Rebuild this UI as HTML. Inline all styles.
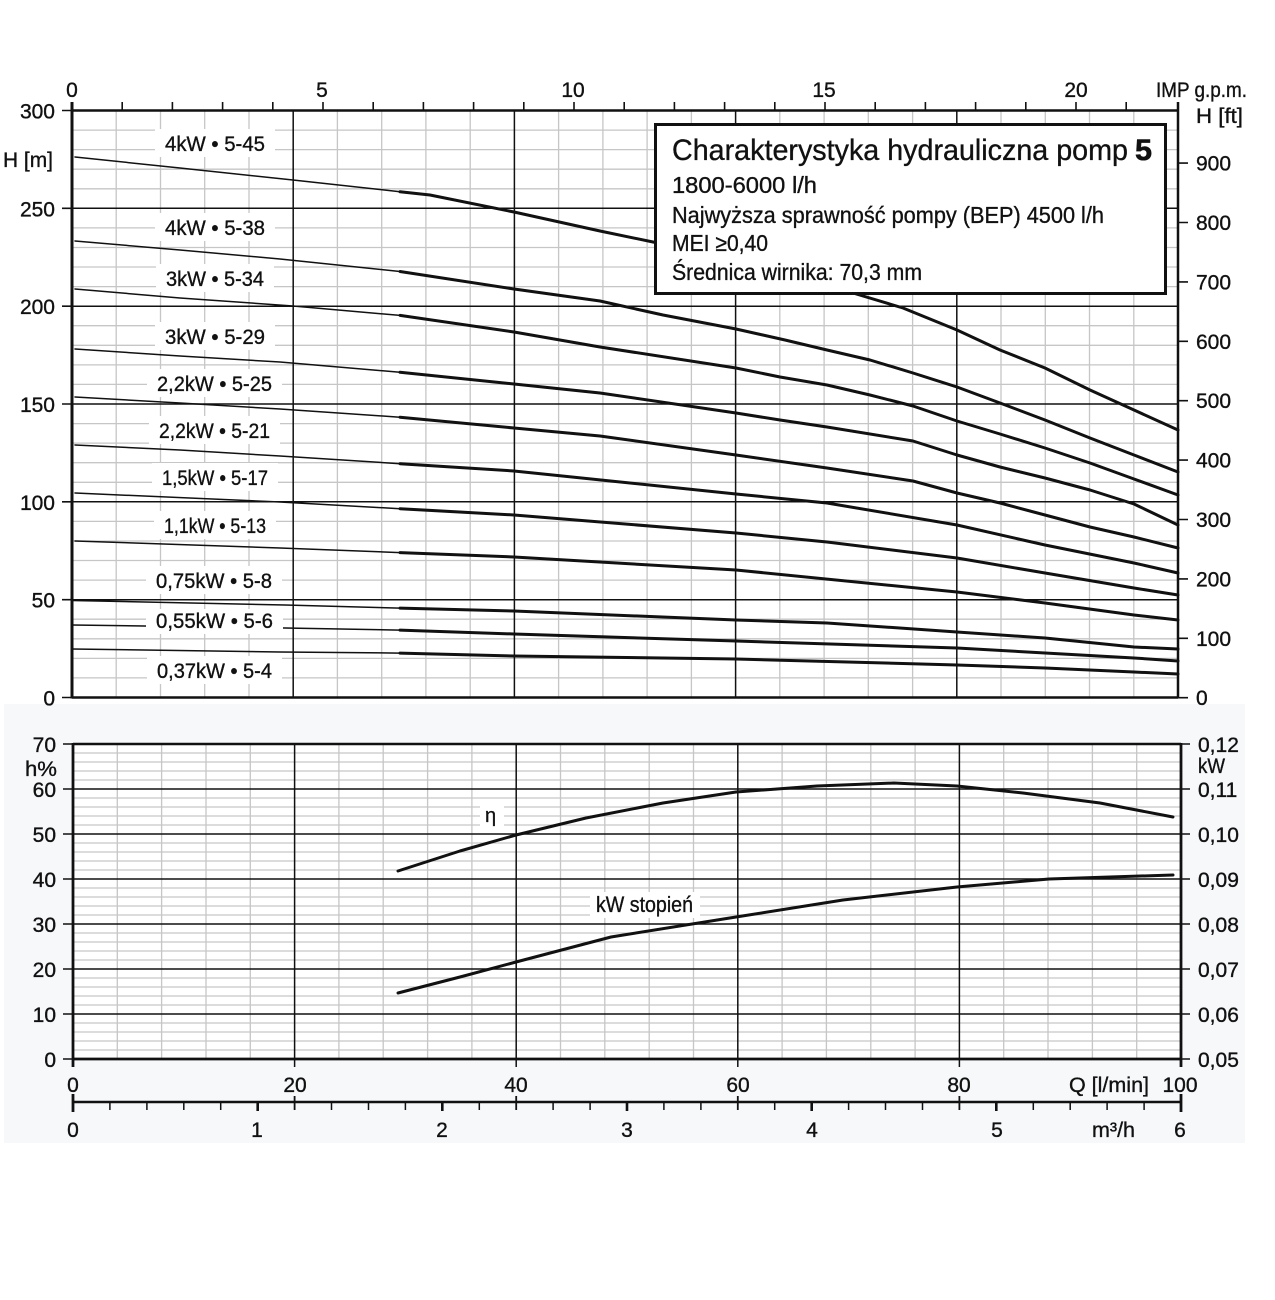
<!DOCTYPE html>
<html><head><meta charset="utf-8"><style>html,body{margin:0;padding:0;background:#fff}svg{display:block}</style></head>
<body>
<svg width="1275" height="1300" viewBox="0 0 1275 1300" xmlns="http://www.w3.org/2000/svg" font-family="'Liberation Sans', 'Noto Sans CJK SC', sans-serif" fill="#111">
<rect x="0" y="0" width="1275" height="1300" fill="#fff"/>
<rect x="4" y="704" width="1241" height="439" fill="#f7f8fa"/>
<rect x="73" y="744" width="1108" height="315" fill="#fff"/>

<!-- ===== TOP PLOT GRID ===== -->
<g stroke="#c6c6c6" stroke-width="1.3" fill="none">
<path d="M116.2 110.5V697.5M160.5 110.5V697.5M204.7 110.5V697.5M249 110.5V697.5M337.4 110.5V697.5M381.7 110.5V697.5M425.9 110.5V697.5M470.2 110.5V697.5M558.6 110.5V697.5M602.9 110.5V697.5M647.1 110.5V697.5M691.4 110.5V697.5M779.8 110.5V697.5M824.1 110.5V697.5M868.3 110.5V697.5M912.6 110.5V697.5M1001 110.5V697.5M1045.3 110.5V697.5M1089.5 110.5V697.5M1133.8 110.5V697.5"/>
<path d="M72 677.9H1178M72 658.4H1178M72 638.8H1178M72 619.2H1178M72 580.1H1178M72 560.5H1178M72 541H1178M72 521.4H1178M72 482.3H1178M72 462.7H1178M72 443.1H1178M72 423.6H1178M72 384.4H1178M72 364.9H1178M72 345.3H1178M72 325.7H1178M72 286.6H1178M72 267H1178M72 247.5H1178M72 227.9H1178M72 188.8H1178M72 169.2H1178M72 149.6H1178M72 130.1H1178"/>
</g>
<g stroke="#111" stroke-width="1.5" fill="none">
<path d="M293.2 110.5V697.5M514.4 110.5V697.5M735.6 110.5V697.5M956.8 110.5V697.5"/>
<path d="M72 599.7H1178M72 501.8H1178M72 404H1178M72 306.2H1178M72 208.3H1178"/>
</g>

<!-- top plot frame & ticks -->
<g stroke="#111" fill="none">
<path d="M72 110.5H1178" stroke-width="2.5"/>
<path d="M72 697.5H1178" stroke-width="2.5"/>
<path d="M72 102V698.5" stroke-width="3"/>
<path d="M1178 102V698.5" stroke-width="2.5"/>
<path stroke-width="1.6" d="M122.2 102V110M172.4 102V110M222.6 102V110M272.8 102V110M323 102V110M373.2 102V110M423.4 102V110M473.6 102V110M523.8 102V110M574 102V110M624.2 102V110M674.4 102V110M724.6 102V110M774.8 102V110M825 102V110M875.2 102V110M925.4 102V110M975.6 102V110M1025.8 102V110M1076 102V110M1126.2 102V110"/>
<path stroke-width="1.6" d="M62 110.5H72M62 208.3H72M62 306.2H72M62 404H72M62 501.8H72M62 599.7H72M62 697.5H72"/>
<path stroke-width="1.6" d="M1178 163.1H1188M1178 222.5H1188M1178 281.9H1188M1178 341.3H1188M1178 400.7H1188M1178 460.1H1188M1178 519.5H1188M1178 578.9H1188M1178 638.3H1188M1178 697.7H1188"/>
</g>

<!-- ===== TOP CURVES ===== -->
<g stroke="#111" fill="none" stroke-linejoin="round" stroke-linecap="round">
<g stroke-width="1.5">
<polyline points="75,157 180,168 293,180 400,191.7"/>
<polyline points="75,241 180,250 280,259 400,271.5"/>
<polyline points="75,289 180,298 293,306 400,315.4"/>
<polyline points="75,349 180,356 280,362 400,372.3"/>
<polyline points="75,397 180,403 280,409 400,417.2"/>
<polyline points="75,445 180,450 280,456 400,463.7"/>
<polyline points="75,493 280,502 400,508.7"/>
<polyline points="75,541 280,548 400,552.6"/>
<polyline points="72,600.5 285,605 400,608.1"/>
<polyline points="72,625 285,628 400,630.1"/>
<polyline points="72,649 280,652 400,653.1"/>
</g>
<g stroke-width="3">
<polyline points="400,191.7 430,195 514,212 600,231 653,242 720,255 800,275 853,293 903,308 957,330 1000,350 1045,368 1090,390 1134,410 1178,430"/>
<polyline points="400,271.5 514,289 600,301 663,315 736,329 785,340 827,350 870,360 913,373 957,387 1000,403 1045,420 1090,438 1134,455 1178,472"/>
<polyline points="400,315.4 514,332 600,347 736,368 780,377 827,385 870,395 913,406 957,421 1000,434 1045,448 1090,463 1134,479 1178,495"/>
<polyline points="400,372.3 514,384 600,393 736,413 780,420 827,427 913,441 957,455 1000,467 1045,478 1090,490 1134,504 1178,525"/>
<polyline points="400,417.2 514,428 600,436 736,455 827,468 913,481 957,493 1000,503 1045,515 1090,527 1134,537 1178,548"/>
<polyline points="400,463.7 514,471 736,494 827,503 957,525 1045,545 1134,563 1178,573"/>
<polyline points="400,508.7 514,515 736,533 827,542 957,558 1045,573 1134,588 1178,595"/>
<polyline points="400,552.6 514,557 736,570 957,592 1045,603 1134,615 1178,620"/>
<polyline points="400,608.1 514,611 736,620 827,623 957,632 1045,638 1134,647 1178,649"/>
<polyline points="400,630.1 514,634 736,641 957,648 1045,653 1134,658 1178,661"/>
<polyline points="400,653.1 514,656 736,659 957,665 1045,668 1134,672 1178,674"/>
</g>
</g>

<!-- curve labels -->
<g fill="#fff">
<rect x="155" y="129" width="120" height="28"/>
<rect x="155" y="213" width="120" height="28"/>
<rect x="156" y="264" width="118" height="28"/>
<rect x="155" y="322" width="120" height="28"/>
<rect x="147" y="369" width="135" height="28"/>
<rect x="149" y="416" width="131" height="28"/>
<rect x="152" y="463" width="126" height="28"/>
<rect x="154" y="511" width="122" height="28"/>
<rect x="146" y="566" width="136" height="28"/>
<rect x="146" y="609" width="137" height="25"/>
<rect x="147" y="656" width="135" height="28"/>
</g>
<g font-size="21" stroke="#111" stroke-width="0.35">
<text x="165" y="151" textLength="100" lengthAdjust="spacingAndGlyphs">4kW • 5-45</text>
<text x="165" y="235" textLength="100" lengthAdjust="spacingAndGlyphs">4kW • 5-38</text>
<text x="166" y="286" textLength="98" lengthAdjust="spacingAndGlyphs">3kW • 5-34</text>
<text x="165" y="344" textLength="100" lengthAdjust="spacingAndGlyphs">3kW • 5-29</text>
<text x="157" y="391" textLength="115" lengthAdjust="spacingAndGlyphs">2,2kW • 5-25</text>
<text x="159" y="438" textLength="111" lengthAdjust="spacingAndGlyphs">2,2kW • 5-21</text>
<text x="162" y="485" textLength="106" lengthAdjust="spacingAndGlyphs">1,5kW • 5-17</text>
<text x="164" y="533" textLength="102" lengthAdjust="spacingAndGlyphs">1,1kW • 5-13</text>
<text x="156" y="588" textLength="116" lengthAdjust="spacingAndGlyphs">0,75kW • 5-8</text>
<text x="156" y="628" textLength="117" lengthAdjust="spacingAndGlyphs">0,55kW • 5-6</text>
<text x="157" y="678" textLength="115" lengthAdjust="spacingAndGlyphs">0,37kW • 5-4</text>
</g>

<!-- info box -->
<rect x="655.5" y="124.5" width="510" height="169" fill="#fff" stroke="#111" stroke-width="3"/>
<g stroke="#111" stroke-width="0.35">
<text x="672" y="160" font-size="30" textLength="456" lengthAdjust="spacingAndGlyphs">Charakterystyka hydrauliczna pomp</text>
<text x="1135" y="160" font-size="30" font-weight="bold" stroke-width="0.6" textLength="17" lengthAdjust="spacingAndGlyphs">5</text>
<g font-size="23">
<text x="672" y="193" textLength="145" lengthAdjust="spacingAndGlyphs">1800-6000 l/h</text>
<text x="672" y="223" textLength="432" lengthAdjust="spacingAndGlyphs">Najwyższa sprawność pompy (BEP) 4500 l/h</text>
<text x="672" y="251" textLength="96" lengthAdjust="spacingAndGlyphs">MEI ≥0,40</text>
<text x="672" y="280" textLength="250" lengthAdjust="spacingAndGlyphs">Średnica wirnika: 70,3 mm</text>
</g>
</g>

<!-- top plot axis labels -->
<g font-size="21" stroke="#111" stroke-width="0.35">
<g text-anchor="middle">
<text x="72" y="97">0</text>
<text x="322" y="97">5</text>
<text x="573" y="97">10</text>
<text x="824" y="97">15</text>
<text x="1076" y="97">20</text>
</g>
<text x="1156" y="97" textLength="91" lengthAdjust="spacingAndGlyphs">IMP g.p.m.</text>
<text x="1196" y="123" textLength="47" lengthAdjust="spacingAndGlyphs">H [ft]</text>
<text x="3" y="167" textLength="50" lengthAdjust="spacingAndGlyphs">H [m]</text>
<g text-anchor="end">
<text x="55" y="118.5">300</text>
<text x="55" y="216.3">250</text>
<text x="55" y="314.2">200</text>
<text x="55" y="412">150</text>
<text x="55" y="509.8">100</text>
<text x="55" y="607.7">50</text>
<text x="55" y="705.5">0</text>
</g>
<text x="1196" y="170.6">900</text>
<text x="1196" y="230">800</text>
<text x="1196" y="289.4">700</text>
<text x="1196" y="348.8">600</text>
<text x="1196" y="408.2">500</text>
<text x="1196" y="467.6">400</text>
<text x="1196" y="527">300</text>
<text x="1196" y="586.4">200</text>
<text x="1196" y="645.8">100</text>
<text x="1196" y="705.2">0</text>
</g>

<!-- ===== BOTTOM PLOT GRID ===== -->
<g stroke="#c6c6c6" stroke-width="1.3" fill="none">
<path d="M117.3 744V1059M161.6 744V1059M206 744V1059M250.3 744V1059M338.9 744V1059M383.2 744V1059M427.6 744V1059M471.9 744V1059M560.5 744V1059M604.8 744V1059M649.2 744V1059M693.5 744V1059M782.1 744V1059M826.4 744V1059M870.8 744V1059M915.1 744V1059M1003.7 744V1059M1048 744V1059M1092.4 744V1059M1136.7 744V1059"/>
<path d="M73 1050H1181M73 1041H1181M73 1032H1181M73 1023H1181M73 1005H1181M73 996H1181M73 987H1181M73 978H1181M73 960H1181M73 951H1181M73 942H1181M73 933H1181M73 915H1181M73 906H1181M73 897H1181M73 888H1181M73 870H1181M73 861H1181M73 852H1181M73 843H1181M73 825H1181M73 816H1181M73 807H1181M73 798H1181M73 780H1181M73 771H1181M73 762H1181M73 753H1181"/>
</g>
<g stroke="#111" stroke-width="1.5" fill="none">
<path d="M294.6 744V1067M516.2 744V1067M737.8 744V1067M959.4 744V1067"/>
<path d="M73 1014H1181M73 969H1181M73 924H1181M73 879H1181M73 834H1181M73 789H1181"/>
</g>
<g stroke="#111" fill="none">
<path d="M73 744H1181" stroke-width="2.5"/>
<path d="M73 1059H1181" stroke-width="2.8"/>
<path d="M73 743V1067" stroke-width="2.8"/>
<path d="M1181 743V1067" stroke-width="2.8"/>
<path stroke-width="1.6" d="M63 744H73M63 789H73M63 834H73M63 879H73M63 924H73M63 969H73M63 1014H73M63 1059H73"/>
<path stroke-width="1.6" d="M1181 744H1190M1181 789H1190M1181 834H1190M1181 879H1190M1181 924H1190M1181 969H1190M1181 1014H1190M1181 1059H1190"/>
<!-- second axis -->
<path d="M72 1102H1182" stroke-width="2.6"/>
<path stroke-width="1.5" d="M109.9 1102V1110M146.9 1102V1110M183.8 1102V1110M220.7 1102V1110M331.5 1102V1110M368.5 1102V1110M405.4 1102V1110M479.3 1102V1110M553.1 1102V1110M590.1 1102V1110M663.9 1102V1110M700.9 1102V1110M774.7 1102V1110M848.6 1102V1110M885.5 1102V1110M922.5 1102V1110M1033.3 1102V1110M1070.2 1102V1110M1107.1 1102V1110M1144.1 1102V1110"/>
<path stroke-width="2.6" d="M257.7 1102V1111M442.3 1102V1111M627 1102V1111M811.7 1102V1111M996.3 1102V1111"/>
<path stroke-width="1.8" d="M294.6 1096V1110M516.2 1096V1110M737.8 1096V1110M959.4 1096V1110"/>
<path stroke-width="2.8" d="M73 1094V1112M1181 1094V1112"/>
</g>

<!-- bottom curves -->
<g stroke="#111" fill="none" stroke-width="3" stroke-linejoin="round" stroke-linecap="round">
<polyline points="398,871 460,851 516,835 586,818 663,803 736,792 817,786 894,783 957,786 1023,793 1100,803 1173,817"/>
<polyline points="398,993 460,977 516,962 611,937 736,917 843,900 957,887 1049,879 1173,875"/>
</g>
<rect x="480" y="806" width="24" height="24" fill="#fff"/>
<text x="485" y="822" font-size="20" stroke="#111" stroke-width="0.3">η</text>
<rect x="590" y="892" width="110" height="26" fill="#fff"/>
<text x="596" y="912" font-size="22" stroke="#111" stroke-width="0.35" textLength="97" lengthAdjust="spacingAndGlyphs">kW stopień</text>

<!-- bottom plot labels -->
<g font-size="21" stroke="#111" stroke-width="0.35">
<g text-anchor="end">
<text x="56" y="752">70</text>
<text x="56" y="797">60</text>
<text x="56" y="842">50</text>
<text x="56" y="887">40</text>
<text x="56" y="932">30</text>
<text x="56" y="977">20</text>
<text x="56" y="1022">10</text>
<text x="56" y="1067">0</text>
</g>
<text x="25" y="776" textLength="32" lengthAdjust="spacingAndGlyphs">h%</text>
<text x="1198" y="752">0,12</text>
<text x="1198" y="773" textLength="27" lengthAdjust="spacingAndGlyphs">kW</text>
<text x="1198" y="797">0,11</text>
<text x="1198" y="842">0,10</text>
<text x="1198" y="887">0,09</text>
<text x="1198" y="932">0,08</text>
<text x="1198" y="977">0,07</text>
<text x="1198" y="1022">0,06</text>
<text x="1198" y="1067">0,05</text>
<g text-anchor="middle">
<text x="73" y="1092">0</text>
<text x="295" y="1092">20</text>
<text x="516" y="1092">40</text>
<text x="738" y="1092">60</text>
<text x="959" y="1092">80</text>
<text x="1180" y="1092">100</text>
<text x="73" y="1137">0</text>
<text x="257" y="1137">1</text>
<text x="442" y="1137">2</text>
<text x="627" y="1137">3</text>
<text x="812" y="1137">4</text>
<text x="997" y="1137">5</text>
<text x="1180" y="1137">6</text>
</g>
<text x="1069" y="1092" textLength="80" lengthAdjust="spacingAndGlyphs">Q [l/min]</text>
<text x="1092" y="1137" textLength="43" lengthAdjust="spacingAndGlyphs">m³/h</text>
</g>
</svg>
</body></html>
